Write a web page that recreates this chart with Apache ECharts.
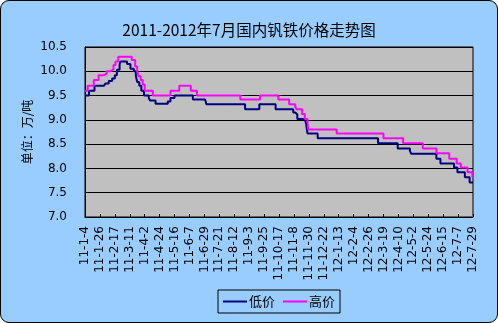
<!DOCTYPE html>
<html>
<head>
<meta charset="utf-8">
<script src="https://cdn.jsdelivr.net/npm/echarts@6/dist/echarts.min.js"></script>
<style>
html,body{margin:0;padding:0;background:#fff;}
#frame{position:absolute;left:0;top:0;width:498px;height:323px;box-sizing:border-box;border:1px solid #000;border-radius:9px;background:#99CCFF;}
#chart{position:absolute;left:0;top:0;width:498px;height:323px;}
</style>
</head>
<body>
<div id="frame"></div>
<div id="chart"></div>
<script>
const titleText = '2011-2012年7月国内钒铁价格走势图';
const yAxisName = '单位：万/吨';
const seriesNames = ['低价', '高价'];
// x tick labels, one every 22 days starting 2011-1-4 (day 0)
const tickLabels = ['11-1-4','11-1-26','11-2-17','11-3-11','11-4-2','11-4-24','11-5-16','11-6-7','11-6-29','11-7-21','11-8-12','11-9-3','11-9-25','11-10-17','11-11-8','11-11-30','11-12-22','12-1-13','12-2-4','12-2-26','12-3-19','12-4-10','12-5-2','12-5-24','12-6-15','12-7-7','12-7-29'];
const tickStep = 22;
const lastDay = 572;
// change points (day offset from 2011-1-4) and price (万/吨)
const lowDays = [0,6,14,28,30,35,40,44,47,51,52,62,67,72,75,77,80,83,87,94,96,104,122,126,132,159,177,179,236,257,281,307,310,313,324,326,328,343,432,461,479,481,518,524,544,549,560,567,572];
const lowValues = [9.5,9.6,9.7,9.72,9.75,9.8,9.85,9.92,10.03,10.14,10.2,10.15,10.05,10.0,9.9,9.78,9.7,9.6,9.5,9.45,9.4,9.33,9.38,9.45,9.5,9.42,9.38,9.32,9.22,9.32,9.22,9.15,9.11,9.02,8.98,8.92,8.72,8.62,8.52,8.41,8.36,8.3,8.2,8.1,8.02,7.92,7.82,7.71,7.71];
const highDays = [0,4,13,20,28,32,37,42,45,49,69,74,77,79,82,85,88,100,126,139,156,165,229,258,285,301,310,312,320,324,328,329,371,440,469,498,518,537,548,554,564,571,572];
const highValues = [9.6,9.7,9.82,9.92,9.95,10.0,10.04,10.13,10.2,10.3,10.23,10.1,10.0,9.9,9.82,9.73,9.6,9.5,9.6,9.7,9.6,9.5,9.42,9.5,9.42,9.32,9.27,9.22,9.12,9.02,8.97,8.8,8.72,8.62,8.52,8.41,8.31,8.2,8.1,8.02,7.92,7.82,7.82];

const lowData = lowDays.map((d, i) => [d, lowValues[i]]);
const highData = highDays.map((d, i) => [d, highValues[i]]);

const chart = echarts.init(document.getElementById('chart'), null, {renderer: 'canvas'});
chart.setOption({
  backgroundColor: 'transparent',
  animation: false,
  title: {
    text: titleText,
    left: 'center',
    top: 17,
    textStyle: {fontFamily: 'Noto Sans CJK SC', fontSize: 15.5, fontWeight: 'normal', color: '#000'}
  },
  graphic: [{
    type: 'text',
    x: 27.5,
    y: 132,
    rotation: Math.PI / 2,
    style: {
      text: yAxisName,
      align: 'center',
      verticalAlign: 'middle',
      font: '12px "Noto Sans CJK SC"',
      fill: '#000'
    }
  }],
  legend: {
    left: 218,
    top: 290,
    data: seriesNames.map(n => ({name: n, icon: 'rect'})),
    itemWidth: 24,
    itemHeight: 2,
    itemGap: 8,
    padding: [5, 5, 5, 5],
    borderColor: '#000',
    borderWidth: 1,
    backgroundColor: 'transparent',
    textStyle: {fontFamily: 'Noto Sans CJK SC', fontSize: 13, color: '#000', padding: [0, 0, 0, -3]}
  },
  grid: {
    left: 85, top: 47, right: 25, bottom: 106,
    show: true,
    backgroundColor: '#C0C0C0',
    borderColor: '#000',
    borderWidth: 1
  },
  xAxis: {
    type: 'value',
    min: 0,
    max: lastDay,
    interval: tickStep,
    axisLine: {show: true, lineStyle: {color: '#000', width: 1}},
    axisTick: {show: true, inside: true, length: 3, lineStyle: {color: '#000'}},
    splitLine: {show: false},
    axisLabel: {
      rotate: 90,
      margin: 9,
      fontFamily: 'DejaVu Sans',
      fontSize: 12,
      color: '#000',
      showMinLabel: true,
      showMaxLabel: true,
      formatter: function (v) { return tickLabels[Math.round(v / tickStep)] || ''; }
    }
  },
  yAxis: {
    type: 'value',
    min: 7,
    max: 10.5,
    interval: 0.5,
    axisLine: {show: true, lineStyle: {color: '#000', width: 1}},
    axisTick: {show: false},
    splitLine: {show: true, lineStyle: {color: '#000', width: 1}},
    axisLabel: {
      margin: 18,
      fontFamily: 'DejaVu Sans',
      fontSize: 12,
      color: '#000',
      formatter: function (v) { return v.toFixed(1); }
    }
  },
  series: [
    {
      name: seriesNames[0],
      type: 'line',
      step: 'end',
      data: lowData,
      symbol: 'none',
      lineStyle: {color: '#000080', width: 2},
      itemStyle: {color: '#000080'}
    },
    {
      name: seriesNames[1],
      type: 'line',
      step: 'end',
      data: highData,
      symbol: 'none',
      lineStyle: {color: '#FF00FF', width: 2},
      itemStyle: {color: '#FF00FF'}
    }
  ]
});
</script>
</body>
</html>
